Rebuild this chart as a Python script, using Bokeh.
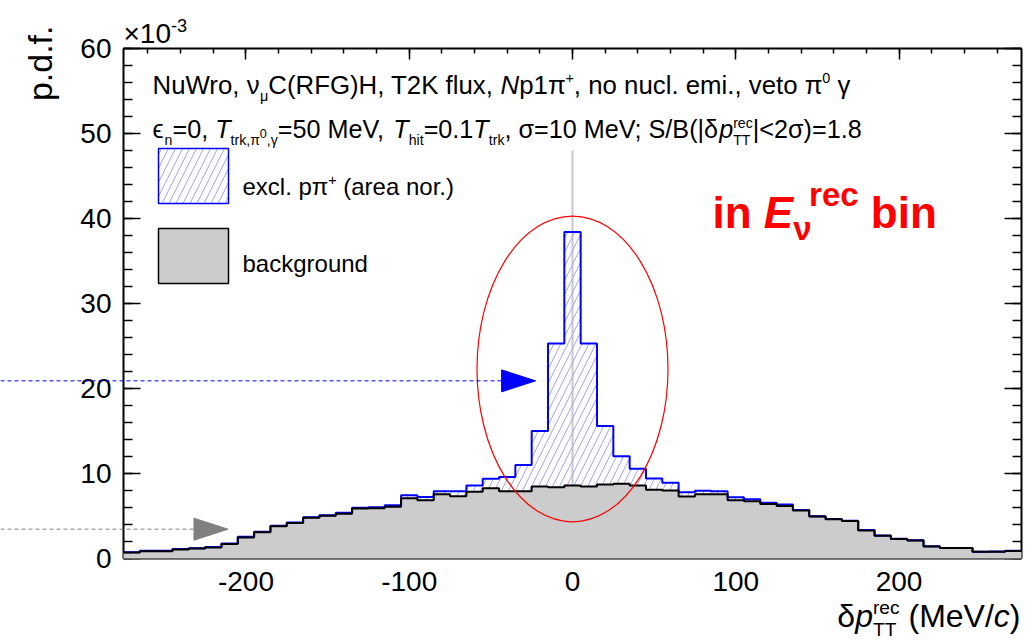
import math
import numpy as np
from bokeh.plotting import figure
from bokeh.models import Range1d, LinearAxis, SingleIntervalTicker, Label, Arrow, PrintfTickFormatter
from bokeh.embed import file_html
from bokeh.resources import INLINE

# ---------------- data (p.d.f. in units of 1e-3) ----------------
bin_centers = [-270, -260, -250, -240, -230, -220, -210, -200, -190, -180,
               -170, -160, -150, -140, -130, -120, -110, -100, -90, -80,
               -70, -60, -50, -40, -30, -20, -10, 0, 10, 20,
               30, 40, 50, 60, 70, 80, 90, 100, 110, 120,
               130, 140, 150, 160, 170, 180, 190, 200, 210, 220,
               230, 240, 250, 260, 270]
bin_width = 10
background = [0.72, 0.85, 0.85, 1.06, 1.17, 1.30, 1.70, 2.48, 3.08, 3.78,
              4.18, 4.78, 5.02, 5.27, 5.88, 5.92, 6.10, 7.10, 6.85, 7.55,
              7.33, 7.85, 8.27, 7.92, 7.92, 8.47, 8.39, 8.60, 8.47, 8.71,
              8.78, 8.59, 8.10, 8.00, 7.28, 7.55, 7.57, 6.86, 6.73, 6.41,
              6.18, 5.65, 4.94, 4.61, 4.41, 3.30, 2.68, 2.28, 2.12, 1.41,
              1.23, 1.23, 0.78, 0.80, 0.88]
stack_total = [0.75, 0.90, 0.90, 1.12, 1.22, 1.36, 1.76, 2.55, 3.15, 3.85,
               4.25, 4.86, 5.10, 5.37, 5.96, 6.04, 6.27, 7.45, 7.25, 7.92,
               7.92, 8.59, 9.37, 9.60, 11.0, 15.0, 25.3, 38.4, 25.3, 15.6,
               12.04, 10.55, 9.40, 8.90, 7.78, 7.96, 7.92, 7.22, 6.98, 6.57,
               6.35, 5.70, 4.98, 4.65, 4.45, 3.35, 2.72, 2.32, 2.14, 1.43,
               1.25, 1.25, 0.80, 0.82, 0.90]
x_lo, x_hi = -275, 275
y_lo, y_hi = 0, 60
x_tick_step, y_tick_step = 100, 10
arrow_levels = [20.9, 3.45]      # levels marked by arrows
arrow_tips = [-22.6, -211.0]     # x position of arrow tips
ellipse_center = (0.0, 22.3)
ellipse_size = (117.0, 36.0)
zero_line_top = 48.0

# ---------------- geometry ----------------
W, H = 1025, 644
FL, FR, FT, FB = 123, 1021, 48, 558   # pixel box of the histogram area


def px2x(px):
    return x_lo + (px - FL) * (x_hi - x_lo) / (FR - FL)


def px2y(py):
    return y_lo + (FB - py) * (y_hi - y_lo) / (FB - FT)


FONT = "Liberation Sans"

# the plotting frame covers the whole canvas; the axes are pinned to the box edges
p = figure(width=W, height=H,
           x_range=Range1d(px2x(0), px2x(W)), y_range=Range1d(px2y(H), px2y(0)),
           output_backend="svg", toolbar_location=None,
           x_axis_location=None, y_axis_location=None, min_border=0)
p.min_border_left = p.min_border_right = p.min_border_top = p.min_border_bottom = 0
p.xgrid.visible = False
p.ygrid.visible = False
p.outline_line_color = None
p.background_fill_color = "white"
p.border_fill_color = "white"


def make_axis(side, fixed, bounds, interval, tick_in, minor_in, labels):
    ax = LinearAxis(fixed_location=fixed, bounds=bounds,
                    ticker=SingleIntervalTicker(interval=interval, num_minor_ticks=5),
                    formatter=PrintfTickFormatter(format="%d"))
    ax.major_tick_in = tick_in
    ax.major_tick_out = 0
    ax.minor_tick_in = minor_in
    ax.minor_tick_out = 0
    ax.major_tick_line_width = 1.5
    ax.minor_tick_line_width = 1.5
    ax.major_tick_line_color = "black"
    ax.minor_tick_line_color = "black"
    ax.axis_line_color = "black"
    ax.axis_line_width = 2
    ax.major_label_text_font = FONT
    ax.major_label_text_font_size = "28px"
    ax.major_label_text_color = "black" if labels else None
    p.add_layout(ax, side)
    return ax


bx = make_axis("below", y_lo, (x_lo, x_hi), x_tick_step, 11, 5, True)
bx.major_label_standoff = 13
ly = make_axis("left", x_lo, (y_lo, y_hi), y_tick_step, 17, 9, True)
ly.major_label_standoff = 12
make_axis("above", y_hi, (x_lo, x_hi), x_tick_step, 11, 5, False)
make_axis("right", x_hi, (y_lo, y_hi), y_tick_step, 17, 9, False)

# ---------------- histograms ----------------
centers = np.array(bin_centers, dtype=float)
edges = np.append(centers - bin_width / 2, centers[-1] + bin_width / 2)
bkg_step = np.append(background, background[-1])
tot_step = np.append(stack_total, stack_total[-1])

HATCH = "#a4a4ff"
# zero reference line (under the fill)
p.segment(x0=[0], y0=[y_lo], x1=[0], y1=[zero_line_top], line_color="#c8c8c8", line_width=2)

p.varea_step(x=edges, y1=np.zeros_like(bkg_step), y2=bkg_step, step_mode="after",
             fill_color="#cccccc", level="annotation")
p.varea_step(x=edges, y1=bkg_step, y2=tot_step, step_mode="after",
             fill_color=None, fill_alpha=0, hatch_pattern="/", hatch_color=HATCH,
             hatch_scale=14, hatch_weight=1, level="annotation")
p.step(x=edges, y=tot_step, mode="after", line_color="#0000ff", line_width=2, level="annotation")
p.step(x=edges, y=bkg_step, mode="after", line_color="black", line_width=2, level="annotation")

# ellipse
p.ellipse(x=[ellipse_center[0]], y=[ellipse_center[1]], width=[ellipse_size[0]],
          height=[ellipse_size[1]], fill_color=None, line_color="red", line_width=1.2,
          level="annotation")

# arrows: dashed shaft from the page edge + triangular head
head_len = 34 * (x_hi - x_lo) / (FR - FL)
head_half = 11 * (y_hi - y_lo) / (FB - FT)
arrow_colors = ["#0000ff", "#808080"]
xs, ys = [], []
for lvl, tip, col in zip(arrow_levels, arrow_tips, arrow_colors):
    p.add_layout(Arrow(end=None, x_start=px2x(0), y_start=lvl, x_end=tip - head_len, y_end=lvl,
                       line_color=col, line_dash="4 3", line_width=1))
    xs.append([tip - head_len, tip, tip - head_len])
    ys.append([lvl - head_half, lvl, lvl + head_half])
p.patches(xs=xs, ys=ys, fill_color=arrow_colors, line_color=arrow_colors, level="annotation")

# ---------------- rich text helper ----------------
_chars = " !\"#$%&'()*+,-./0123456789:;<=>?@ABCDEFGHIJKLMNOPQRSTUVWXYZ[\\]^_`abcdefghijklmnopqrstuvwxyz{|}~"
_w = [278, 278, 355, 556, 556, 889, 667, 191, 333, 333, 389, 584, 278, 333, 278, 278,
      556, 556, 556, 556, 556, 556, 556, 556, 556, 556,
      278, 278, 584, 584, 584, 556, 1015,
      667, 667, 722, 722, 667, 611, 778, 722, 278, 500, 667, 556, 833, 722, 778, 667, 778, 722, 667, 611,
      722, 667, 944, 667, 667, 611,
      278, 278, 278, 469, 556, 333,
      556, 556, 500, 556, 556, 278, 556, 556, 222, 222, 500, 222, 833, 556, 556, 556, 556, 333, 500, 278,
      556, 500, 722, 500, 500, 500,
      334, 260, 334, 584]
WID = dict(zip(_chars, _w))
WID.update({"ν": 500, "μ": 577, "π": 680, "γ": 500, "σ": 617, "δ": 556, "ϵ": 480, "×": 584})
BOLD = dict(WID)
BOLD.update({"b": 611, "n": 611, "i": 278, "r": 389, "e": 556, "c": 556, "E": 667, " ": 278, "ν": 556})
BASE_FIX = 0.36   # empirical shift of the alphabetic baseline in the svg output


def twidth(s, size, bold=False):
    tab = BOLD if bold else WID
    return sum(tab.get(c, 556) for c in s) * size / 1000.0


def rich_width(segs, size, bold=False, sub=0.6, sup_shift=0.0):
    x, held = 0.0, 0.0
    for text, kind, italic in segs:
        sc = sub if kind in ("sub", "sup", "supnoadv") else (0.5 if kind == "subsup" else 1.0)
        w = twidth(text, size * sc, bold)
        if kind == "supnoadv":
            held = w + sup_shift * size
        else:
            x += max(w, held)
            held = 0.0
    return x


def rich(x_px, base_px, segs, size, color="black", bold=False, sub=0.6, sup_shift=0.0, sup_up=0.42):
    """segs: (text, kind, italic) ; kind in n, sub, sup, supnoadv, subsup"""
    x = x_px
    held = 0.0
    for text, kind, italic in segs:
        sc, dy, dx = 1.0, 0.0, 0.0
        if kind == "sub":
            sc, dy = sub, -0.27 * size
        elif kind in ("sup", "supnoadv"):
            sc, dy, dx = sub, sup_up * size, sup_shift * size
        elif kind == "subsup":
            sc, dy = 0.5, 0.02 * size
        fs = size * sc
        lead = len(text) - len(text.lstrip(" "))
        shown = text.strip(" ")
        style = ("bold " if bold else "") + ("italic" if italic else "")
        style = style.strip() or "normal"
        if shown:
            tx = x + dx + twidth(" " * lead, fs, bold)
            ty = base_px - dy - BASE_FIX * fs
            p.add_layout(Label(x=px2x(tx), y=px2y(ty), text=shown, text_font=FONT,
                               text_font_size=f"{fs:.1f}px", text_font_style=style,
                               text_color=color, text_align="left", text_baseline="alphabetic"))
        w = twidth(text, fs, bold)
        if kind == "supnoadv":
            held = w + dx
        else:
            x += max(w, held)
            held = 0.0


# multiplier
rich(123, 43, [("×10", "n", False), ("-3", "sup", False)], 28, sub=0.65)

# y axis title
PDF_SIZE = 34
p.add_layout(Label(x=px2x(52 - BASE_FIX * PDF_SIZE), y=px2y(25), text="p.d.f.", angle=math.pi / 2,
                   text_font=FONT, text_font_size=f"{PDF_SIZE}px", text_align="right",
                   text_baseline="alphabetic", text_color="black"))

# x axis title (right aligned at the box edge)
xt = [("δ", "n", False), ("p", "n", True), ("rec", "supnoadv", False), ("TT", "sub", False),
      (" (MeV/", "n", False), ("c", "n", True), (")", "n", False)]
XT_SIZE = 32
rich(1020 - rich_width(xt, XT_SIZE), 627, xt, XT_SIZE)

# header lines
SUB = 0.56
rich(152, 94, [("NuWro, ν", "n", False), ("μ", "sub", False), ("C(RFG)H, T2K flux, ", "n", False),
               ("N", "n", True), ("p1π", "n", False), ("+", "sup", False),
               (", no nucl. emi., veto π", "n", False), ("0", "sup", False), (" γ", "n", False)], 25.8,
     sub=SUB)
rich(152, 138, [("ϵ", "n", False), ("n", "sub", False), ("=0, ", "n", False), ("T", "n", True),
                ("trk,π", "sub", False), ("0", "subsup", False), (",γ", "sub", False),
                ("=50 MeV, ", "n", False), ("T", "n", True), ("hit", "sub", False),
                ("=0.1", "n", False), ("T", "n", True), ("trk", "sub", False),
                (", σ=10 MeV; S/B(|δ", "n", False), ("p", "n", True), ("rec", "supnoadv", False),
                ("TT", "sub", False), ("|<2σ)=1.8", "n", False)], 25.2, sub=SUB)

# legend boxes
p.quad(left=[px2x(158)], right=[px2x(228)], bottom=[px2y(203)], top=[px2y(148)],
       fill_color="white", hatch_pattern="/", hatch_color=HATCH, hatch_scale=14,
       line_color="#0000ff", line_width=1.5, level="annotation")
p.quad(left=[px2x(158)], right=[px2x(228)], bottom=[px2y(283)], top=[px2y(228)],
       fill_color="#cccccc", line_color="black", line_width=1.5, level="annotation")
rich(242, 195, [("excl. pπ", "n", False), ("+", "sup", False), (" (area nor.)", "n", False)], 24)
rich(242, 272, [("background", "n", False)], 24)

# big red annotation
rich(712, 228, [("in ", "n", False), ("E", "n", True), ("rec", "supnoadv", False), ("ν", "sub", False),
                (" bin", "n", False)], 44, color="red", bold=True, sub=0.75, sup_shift=0.36,
     sup_up=0.5)

open("out.html", "w").write(file_html(p, INLINE))
